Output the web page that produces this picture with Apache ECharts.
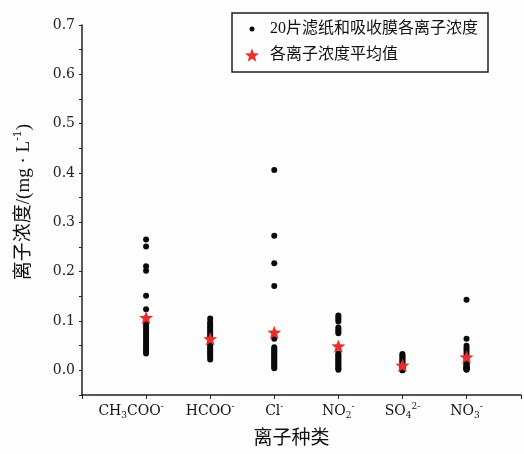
<!DOCTYPE html>
<html><head><meta charset="utf-8">
<script src="https://cdn.jsdelivr.net/npm/echarts@6/dist/echarts.min.js"></script>
<style>html,body{margin:0;padding:0;background:#fdfdfd}#c{width:524px;height:454px}</style>
</head><body><div id="c"></div><script>
// ---- data ----
const categories = ['CH3COO-', 'HCOO-', 'Cl-', 'NO2-', 'SO4 2-', 'NO3-'];
const categoryLabels = [
  '{a|CH}{sub|3}{a|COO}{sup|-}{gap|}',
  '{a|HCOO}{sup|-}',
  '{a|Cl}{sup|-}',
  '{a|NO}{sub|2}{sup|-}',
  '{a|SO}{sub|4}{sup|2-}',
  '{a|NO}{sub|3}{sup|-}'
];
const yTickValues = [0, 0.1, 0.2, 0.3, 0.4, 0.5, 0.6, 0.7];
const ch3coo = [0.265, 0.251, 0.211, 0.202, 0.151, 0.124, 0.098, 0.092, 0.087, 0.082, 0.077, 0.072, 0.067, 0.062, 0.057, 0.052, 0.047, 0.042, 0.038, 0.034];
const hcoo = [0.105, 0.098, 0.094, 0.090, 0.086, 0.082, 0.078, 0.074, 0.070, 0.066, 0.058, 0.054, 0.050, 0.046, 0.042, 0.038, 0.034, 0.031, 0.027, 0.022];
const cl = [0.406, 0.273, 0.217, 0.171, 0.064, 0.047, 0.043, 0.040, 0.037, 0.034, 0.031, 0.028, 0.025, 0.022, 0.019, 0.016, 0.013, 0.010, 0.007, 0.004];
const no2 = [0.111, 0.107, 0.103, 0.099, 0.087, 0.083, 0.079, 0.075, 0.034, 0.031, 0.028, 0.025, 0.022, 0.019, 0.016, 0.013, 0.010, 0.007, 0.004, 0.001];
const so4 = [0.033, 0.030, 0.027, 0.024, 0.021, 0.018, 0.015, 0.012, 0.010, 0.008, 0.006, 0.005, 0.004, 0.003, 0.002, 0.002, 0.001, 0.001, 0.000, 0.000];
const no3 = [0.143, 0.064, 0.050, 0.045, 0.040, 0.035, 0.030, 0.025, 0.020, 0.017, 0.014, 0.012, 0.010, 0.008, 0.006, 0.005, 0.004, 0.003, 0.002, 0.001];
const means = [0.107, 0.064, 0.077, 0.049, 0.010, 0.027];
const seriesNames = ['20片滤纸和吸收膜各离子浓度', '各离子浓度平均值'];

// ---- build ----
const allIons = [ch3coo, hcoo, cl, no2, so4, no3];
const pointData = [];
allIons.forEach((arr, i) => arr.forEach(v => pointData.push([i + 1, v])));
const meanData = means.map((v, i) => [i + 1, v]);
const catPositions = categories.map((c, i) => i + 1);

const STAR = 'path://M10,0L12.47,6.6L19.51,6.91L13.99,11.3L15.88,18.09L10,14.2L4.12,18.09L6.01,11.3L0.49,6.91L7.53,6.6Z';
const DOT_ICON = 'path://M0,0M14,14M4.5,7A2.5,2.5,0,1,1,9.5,7A2.5,2.5,0,1,1,4.5,7Z';
const AX = '#2a1d1a';
const SERIF = 'DejaVu Serif, Liberation Serif, serif';
const CJK = 'Liberation Serif, Noto Sans CJK SC, sans-serif';

function xLabel(v) {
  const i = catPositions.indexOf(Math.round(v * 100) / 100);
  return i >= 0 ? categoryLabels[i] : '';
}
function yLabel(v) {
  const r = Math.round(v * 100) / 100;
  return yTickValues.indexOf(r) >= 0 ? r.toFixed(1) : '';
}

const chart = echarts.init(document.getElementById('c'), null, {renderer: 'canvas'});
chart.setOption({
  backgroundColor: '#fdfdfd',
  animation: false,
  grid: {left: 82, right: 0, top: 25, bottom: 57, containLabel: false},
  legend: {
    orient: 'vertical', left: 232, top: 13,
    padding: [8, 10, 9, 13], itemGap: 10, itemWidth: 14, itemHeight: 14,
    borderColor: AX, borderWidth: 1.5,
    textStyle: {fontSize: 16, lineHeight: 16, fontFamily: CJK, color: '#111', padding: [0, 0, 0, 6]},
    data: [{name: seriesNames[0], icon: DOT_ICON}, {name: seriesNames[1], icon: STAR}]
  },
  xAxis: {
    type: 'value', min: 0, max: 6.85, interval: 1,
    name: '离子种类', nameLocation: 'middle', nameGap: 35,
    nameTextStyle: {fontSize: 19, fontFamily: CJK, color: '#111', padding: [0, 20, 0, 0]},
    axisLine: {show: true, onZero: false, lineStyle: {color: AX, width: 1.5}},
    axisTick: {show: true, length: 4},
    splitLine: {show: false},
    axisLabel: {
      margin: 7, color: '#111', hideOverlap: false,
      formatter: xLabel,
      rich: {
        a: {fontSize: 14, fontFamily: SERIF, color: '#111', lineHeight: 18},
        sub: {fontSize: 9, fontFamily: SERIF, color: '#111', lineHeight: 9, verticalAlign: 'bottom'},
        sup: {fontSize: 9, fontFamily: SERIF, color: '#111', lineHeight: 9, verticalAlign: 'top'},
        gap: {width: 30}
      }
    }
  },
  yAxis: [{
    type: 'value', min: -0.05, max: 0.7, interval: 0.05,
    name: '{a|离子浓度/(mg · L}{sup|-1}{a|)}', nameLocation: 'middle', nameGap: 47,
    nameTextStyle: {padding: [0, 0, 0, 16], rich: {
      a: {fontSize: 19, fontFamily: CJK, color: '#111', lineHeight: 22},
      sup: {fontSize: 11, fontFamily: SERIF, color: '#111', lineHeight: 11, verticalAlign: 'top'}
    }},
    axisLine: {show: true, onZero: false, lineStyle: {color: AX, width: 1.5}},
    axisTick: {show: true, length: 3},
    splitLine: {show: false},
    axisLabel: {margin: 7, fontSize: 14, fontFamily: SERIF, color: '#222', hideOverlap: false,
      formatter: yLabel}
  }],
  series: [{
    name: seriesNames[0], type: 'scatter', data: pointData,
    symbol: 'circle', symbolSize: 6, itemStyle: {color: '#0a0a0a', opacity: 1}
  }, {
    name: seriesNames[1], type: 'scatter', data: meanData,
    symbol: STAR, symbolSize: 14, symbolKeepAspect: true, itemStyle: {color: '#ea2e2c', opacity: 1}, z: 3
  }]
});
</script></body></html>
